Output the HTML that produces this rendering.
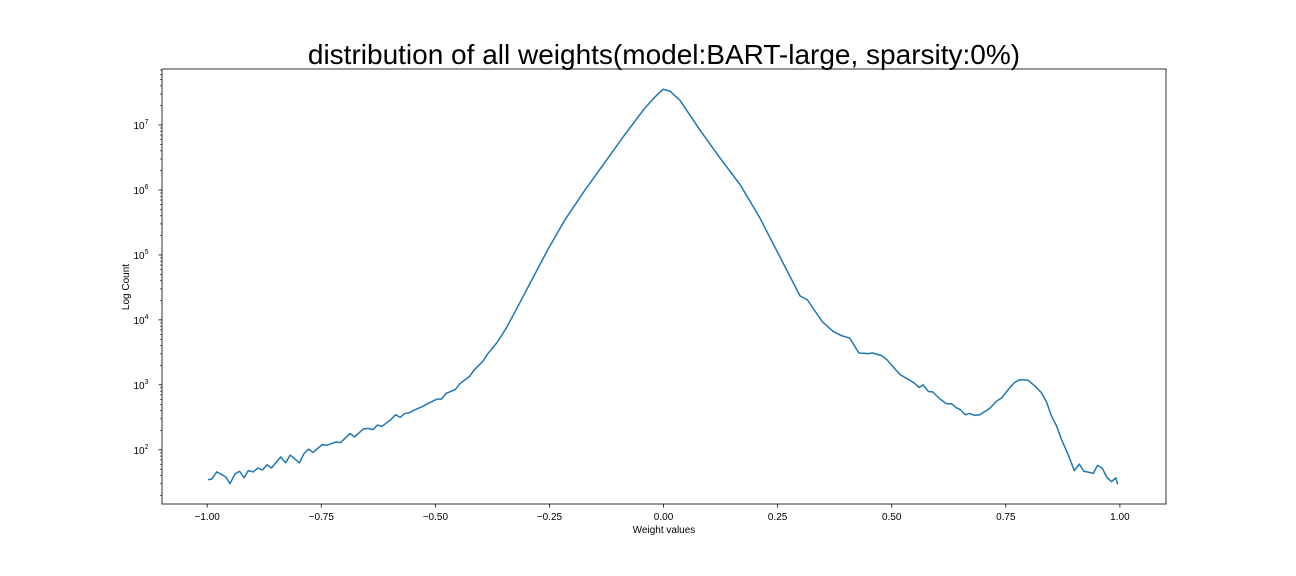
<!DOCTYPE html>
<html><head><meta charset="utf-8"><style>
html,body{margin:0;padding:0;background:#fff;}
svg{display:block;font-family:"Liberation Sans","DejaVu Sans",sans-serif;}
</style></head><body>
<svg id="chart" width="1296" height="576" viewBox="0 0 1296 576" xmlns="http://www.w3.org/2000/svg">
<rect width="1296" height="576" fill="#fff"/>
<text x="664" y="64" font-size="28" text-anchor="middle" fill="#000">distribution of all weights(model:BART-large, sparsity:0%)</text>
<text x="664" y="533" font-size="10" text-anchor="middle" fill="#000">Weight values</text>
<text x="129" y="287" font-size="10" text-anchor="middle" fill="#000" transform="rotate(-90 129 287)">Log Count</text>
<g id="ticks"></g>
<path id="line" fill="none" stroke="#1f77b4" stroke-width="1.5" stroke-linejoin="round"/>
<rect x="162" y="69" width="1004" height="435" fill="none" stroke="#000" stroke-width="0.8"/>
</svg>
<script>
const weights = [-0.998,-0.990,-0.979,-0.968,-0.959,-0.950,-0.939,-0.929,-0.919,-0.910,-0.899,-0.889,-0.879,-0.869,-0.859,-0.839,-0.828,-0.818,-0.798,-0.788,-0.778,-0.768,-0.748,-0.738,-0.718,-0.708,-0.687,-0.677,-0.658,-0.647,-0.637,-0.627,-0.617,-0.597,-0.587,-0.577,-0.567,-0.557,-0.547,-0.527,-0.517,-0.497,-0.487,-0.476,-0.456,-0.446,-0.425,-0.416,-0.395,-0.385,-0.365,-0.345,-0.325,-0.292,-0.253,-0.216,-0.172,-0.128,-0.085,-0.041,-0.019,-0.001,0.014,0.036,0.080,0.124,0.168,0.211,0.255,0.299,0.315,0.348,0.372,0.389,0.408,0.428,0.449,0.458,0.478,0.489,0.518,0.549,0.560,0.569,0.580,0.590,0.606,0.620,0.631,0.641,0.650,0.661,0.671,0.682,0.693,0.715,0.730,0.741,0.759,0.770,0.781,0.799,0.814,0.828,0.839,0.850,0.861,0.872,0.887,0.900,0.911,0.921,0.942,0.951,0.961,0.972,0.982,0.991,0.995];
const logCounts = [1.54,1.55,1.66,1.62,1.58,1.48,1.63,1.67,1.57,1.68,1.66,1.72,1.69,1.77,1.72,1.89,1.80,1.92,1.80,1.94,2.01,1.96,2.08,2.07,2.12,2.11,2.25,2.20,2.32,2.33,2.31,2.38,2.36,2.47,2.54,2.50,2.56,2.57,2.61,2.67,2.71,2.78,2.78,2.87,2.93,3.02,3.13,3.22,3.37,3.48,3.65,3.87,4.13,4.57,5.09,5.54,6.00,6.43,6.85,7.26,7.43,7.55,7.52,7.38,6.92,6.49,6.08,5.57,4.97,4.37,4.31,3.97,3.82,3.76,3.72,3.49,3.48,3.49,3.45,3.39,3.16,3.03,2.96,3.00,2.90,2.89,2.78,2.71,2.71,2.65,2.62,2.54,2.56,2.53,2.54,2.64,2.75,2.80,2.96,3.04,3.08,3.07,2.98,2.88,2.74,2.52,2.37,2.16,1.92,1.68,1.78,1.67,1.64,1.76,1.72,1.57,1.51,1.57,1.47];
const xTicks = [-1.00,-0.75,-0.50,-0.25,0.00,0.25,0.50,0.75,1.00];
const yDecades = [2,3,4,5,6,7];

const NS = "http://www.w3.org/2000/svg";
const X0 = 162, X1 = 1166, Y0 = 69, Y1 = 504;
const xMin = -1.099, xMax = 1.101, lMin = 1.166, lMax = 7.862;
function xs(v){ return X0 + (v - xMin) / (xMax - xMin) * (X1 - X0); }
function ys(l){ return Y1 - (l - lMin) / (lMax - lMin) * (Y1 - Y0); }
function mk(tag, attrs){ const e = document.createElementNS(NS, tag); for (const k in attrs) e.setAttribute(k, attrs[k]); return e; }

let d = "";
weights.forEach((w, i) => { d += (i ? "L" : "M") + xs(w).toFixed(2) + "," + ys(logCounts[i]).toFixed(2); });
document.getElementById("line").setAttribute("d", d);

const g = document.getElementById("ticks");
xTicks.forEach(t => {
  const x = xs(t);
  const ln = mk("line", {x1:x, x2:x, y1:Y1, y2:Y1+3.5, stroke:"#000", "stroke-width":0.8});
  
  
  g.appendChild(ln);
  const tx = mk("text", {x:x, y:Y1+16, "font-size":10, "text-anchor":"middle", fill:"#000"});
  
  
  tx.textContent = (t < 0 ? "\u2212" : "") + Math.abs(t).toFixed(2);
  g.appendChild(tx);
});
yDecades.forEach(p => {
  const y = ys(p);
  const ln = mk("line", {x1:X0-3.5, x2:X0, y1:y, y2:y, stroke:"#000", "stroke-width":0.8});
  
  
  g.appendChild(ln);
  const tx = mk("text", {x:X0-21, y:y+4, "font-size":10, "text-anchor":"middle", fill:"#000"});
  
  
  tx.textContent = "10";
  const sup = mk("tspan", {dy:-5, "font-size":7});
  sup.textContent = String(p);
  tx.appendChild(sup);
  g.appendChild(tx);
});
for (let p = 1; p <= 7; p++) {
  for (let m = 2; m <= 9; m++) {
    const l = p + Math.log10(m);
    if (l < lMin || l > lMax) continue;
    const y = ys(l);
    const ln = mk("line", {x1:X0-2, x2:X0, y1:y, y2:y, stroke:"#000", "stroke-width":0.6});
    
    
    g.appendChild(ln);
  }
}
</script>
</body></html>
